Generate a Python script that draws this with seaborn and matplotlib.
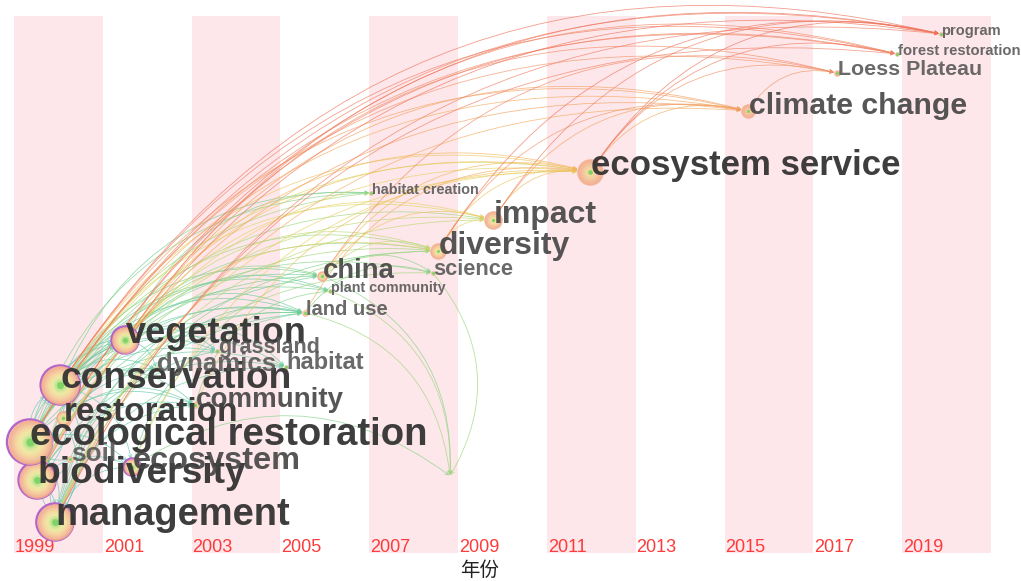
"""
关键词时区图 (CiteSpace timezone 风格)
"""
import matplotlib
matplotlib.use('Agg')
import matplotlib.pyplot as plt
import seaborn as sns
from matplotlib.colors import LinearSegmentedColormap

# 节点: 关键词, 首次出现年份(横向位置), 纵向位置, 节点半径(px), 字号
keys = ['M', 'B', 'E', 'C', 'R', 'S', 'Y', 'V', 'Co', 'D', 'G', 'H', 'L', 'P',
        'Ch', 'Sc', 'Di', 'I', 'HC', 'ES', 'CC', 'LP', 'FR', 'PG', 'X']
terms = ['management', 'biodiversity', 'ecological restoration', 'conservation',
         'restoration', 'soil', 'ecosystem', 'vegetation', 'community', 'dynamics',
         'grassland', 'habitat', 'land use', 'plant community', 'china', 'science',
         'diversity', 'impact', 'habitat creation', 'ecosystem service',
         'climate change', 'Loess Plateau', 'forest restoration', 'program', '']
years = [1999.92, 1999.52, 1999.35, 2000.04, 2000.10, 2000.26, 2001.66, 2001.50,
         2003.08, 2002.20, 2003.57, 2005.12, 2005.55, 2006.12, 2005.94, 2008.43,
         2008.55, 2009.79, 2007.04, 2011.97, 2015.53, 2017.53, 2018.88, 2019.87,
         2008.82]
rows = [31, 73, 111, 168, 135, 94, 86, 213, 148, 184, 202, 186, 240, 262, 277, 280,
        302, 333, 360, 381, 442, 480, 499, 519, 77]
radius = [18, 18, 22, 19, 7, 3, 8, 13, 3, 2, 2, 2, 3, 2, 5, 2, 8, 9, 2, 13, 7, 3, 2, 2, 1]
fsize = [27.4, 26.7, 27.5, 26.7, 24, 18.8, 23.4, 26, 20, 18.6, 15.5, 17, 14.5, 10.4,
         19.8, 15.7, 23, 23, 10.4, 25, 21.8, 15.4, 10.6, 10.5, 1]
purple = ['M', 'B', 'E', 'C', 'Y', 'V']

# 共现连线: (起点, 终点, 年份)
edges = [
    ('E', 'M', 2000), ('E', 'B', 2000), ('E', 'C', 2000), ('B', 'M', 2000),
    ('C', 'M', 2001), ('C', 'B', 2001), ('R', 'E', 2000), ('R', 'M', 2001),
    ('S', 'E', 2002), ('S', 'B', 2003), ('M', 'C', 2002), ('B', 'C', 2003),
    ('E', 'Y', 2001), ('M', 'Y', 2002), ('B', 'Y', 2001), ('C', 'Y', 2002),
    ('E', 'V', 2001), ('M', 'V', 2002), ('B', 'V', 2001), ('C', 'V', 2001), ('R', 'V', 2003),
    ('E', 'D', 2002), ('C', 'D', 2003), ('V', 'D', 2003), ('B', 'D', 2004),
    ('V', 'G', 2003), ('C', 'G', 2004), ('E', 'G', 2004), ('M', 'G', 2005),
    ('E', 'Co', 2003), ('B', 'Co', 2003), ('C', 'Co', 2004), ('M', 'Co', 2004), ('R', 'Co', 2005),
    ('C', 'H', 2005), ('B', 'H', 2005), ('E', 'H', 2006), ('M', 'H', 2006), ('V', 'H', 2006),
    ('E', 'L', 2005), ('M', 'L', 2005), ('B', 'L', 2006), ('C', 'L', 2005), ('V', 'L', 2006),
    ('R', 'L', 2006), ('Y', 'L', 2007), ('S', 'L', 2007), ('D', 'L', 2006),
    ('E', 'Ch', 2006), ('M', 'Ch', 2006), ('B', 'Ch', 2007), ('C', 'Ch', 2007), ('V', 'Ch', 2008),
    ('V', 'P', 2006), ('E', 'P', 2007), ('C', 'P', 2007), ('Co', 'P', 2008),
    ('Ch', 'Sc', 2008), ('E', 'Sc', 2008), ('M', 'Sc', 2009), ('L', 'Sc', 2008),
    ('E', 'Di', 2008), ('M', 'Di', 2008), ('B', 'Di', 2009), ('C', 'Di', 2009),
    ('V', 'Di', 2010), ('Y', 'Di', 2009), ('Ch', 'Di', 2010), ('R', 'Di', 2012),
    ('C', 'HC', 2007), ('E', 'HC', 2008), ('V', 'HC', 2008), ('B', 'HC', 2009),
    ('E', 'I', 2009), ('M', 'I', 2010), ('B', 'I', 2010), ('C', 'I', 2011),
    ('V', 'I', 2012), ('Di', 'I', 2012), ('Ch', 'I', 2013),
    ('Ch', 'X', 2008), ('Sc', 'X', 2009), ('Y', 'X', 2008), ('L', 'X', 2009), ('P', 'X', 2009),
    ('E', 'ES', 2011), ('M', 'ES', 2012), ('B', 'ES', 2012), ('C', 'ES', 2013),
    ('V', 'ES', 2014), ('R', 'ES', 2013), ('Y', 'ES', 2012), ('Di', 'ES', 2013),
    ('I', 'ES', 2014), ('Ch', 'ES', 2014), ('L', 'ES', 2015), ('Co', 'ES', 2013),
    ('E', 'CC', 2015), ('M', 'CC', 2015), ('B', 'CC', 2016), ('C', 'CC', 2016),
    ('ES', 'CC', 2015), ('V', 'CC', 2016), ('Di', 'CC', 2017), ('I', 'CC', 2016),
    ('E', 'LP', 2017), ('ES', 'LP', 2017), ('CC', 'LP', 2017), ('Ch', 'LP', 2018), ('V', 'LP', 2018),
    ('E', 'FR', 2018), ('R', 'FR', 2019), ('M', 'FR', 2019), ('C', 'FR', 2019),
    ('V', 'FR', 2018), ('ES', 'FR', 2019),
    ('E', 'PG', 2019), ('M', 'PG', 2019), ('B', 'PG', 2020), ('C', 'PG', 2020),
    ('ES', 'PG', 2020), ('I', 'PG', 2019), ('Di', 'PG', 2020), ('R', 'PG', 2020),
]

tick_years = list(range(1999, 2021, 2))
band_years = [1999, 2003, 2007, 2011, 2015, 2019]

sns.set_style('white')
plt.rcParams['font.family'] = ['Liberation Sans', 'DejaVu Sans']

fig = plt.figure(figsize=(10.21, 5.81), dpi=100)
ax = fig.add_axes([14 / 1021, 28 / 581, 977 / 1021, 537 / 581])
ax.set_xlim(1999, 2021)
ax.set_ylim(0, 537)
ax.axis('off')

for yr in band_years:
    ax.axvspan(yr, yr + 2, color='#fde7ea', lw=0, zorder=0)

for yr in tick_years:
    ax.text(yr + 0.02, 1, str(yr), color='#ff3a3a', fontsize=13, ha='left', va='baseline', zorder=1)

fig.text(480 / 1021, 1 - 570 / 581, '年份', fontsize=14, ha='center', va='center', color='#222222',
         family=['Noto Sans CJK SC', 'DejaVu Sans'])

pos = {k: (x, y) for k, x, y in zip(keys, years, rows)}
rad_of = dict(zip(keys, radius))

edge_cmap = LinearSegmentedColormap.from_list(
    'edge', [(0, '#5cc6b6'), (0.2, '#62c9a8'), (0.37, '#74cf8e'), (0.47, '#a8d874'),
             (0.57, '#e6d862'), (0.72, '#f4b25a'), (0.87, '#f29066'), (1, '#ef735c')])

for src, tgt, yr in edges:
    c = edge_cmap((yr - 2000) / 20)
    ax.annotate('', xy=pos[tgt], xytext=pos[src], xycoords='data',
                arrowprops=dict(arrowstyle='->', color=c, lw=0.6, alpha=0.7,
                                mutation_scale=6, shrinkA=0, shrinkB=rad_of[tgt] * 0.72,
                                connectionstyle='arc3,rad=-0.35', clip_on=False),
                annotation_clip=False, zorder=2)

ring_cmap = LinearSegmentedColormap.from_list(
    'ring', ['#f2ab8e', '#f5c6a0', '#f6dca2', '#eeeba6', '#c4e696', '#7fd467'])

for k, x, y, r in zip(keys, years, rows, radius):
    if r < 2:
        continue
    span = min(1.0, (2021 - x) / 21 * 1.1)
    n = max(3, int(r / 1.6))
    if k in purple:
        ax.scatter([x], [y], s=(2 * (r + 0.5) * 0.72) ** 2, facecolor='none',
                   edgecolor='#b465c8', linewidth=1.8, zorder=3, clip_on=False)
    for i in range(n):
        rr = r * (1 - i / n)
        ax.scatter([x], [y], s=(2 * rr * 0.72) ** 2, color=ring_cmap(i / (n - 1) * span),
                   edgecolor=ring_cmap(min(1, i / (n - 1) * span + 0.05)), linewidth=0.3,
                   alpha=0.9, zorder=3, clip_on=False)
    ax.scatter([x], [y], s=(2 * max(1.5, r * 0.18) * 0.72) ** 2, color='#7fd467',
               linewidth=0, zorder=3, clip_on=False)

for t, x, y, fs in zip(terms, years, rows, fsize):
    if not t:
        continue
    if fs >= 24:
        col, al = '#2f2f2f', 0.93
    elif fs >= 19:
        col, al = '#434343', 0.9
    else:
        col, al = '#555555', 0.88
    ax.annotate(t, xy=(x, y), xytext=(0.5, 0.28 * fs), textcoords='offset points',
                ha='left', va='center_baseline', fontsize=fs, fontweight='bold',
                color=col, alpha=al, zorder=4, annotation_clip=False)

plt.savefig('out.png', dpi=100)
